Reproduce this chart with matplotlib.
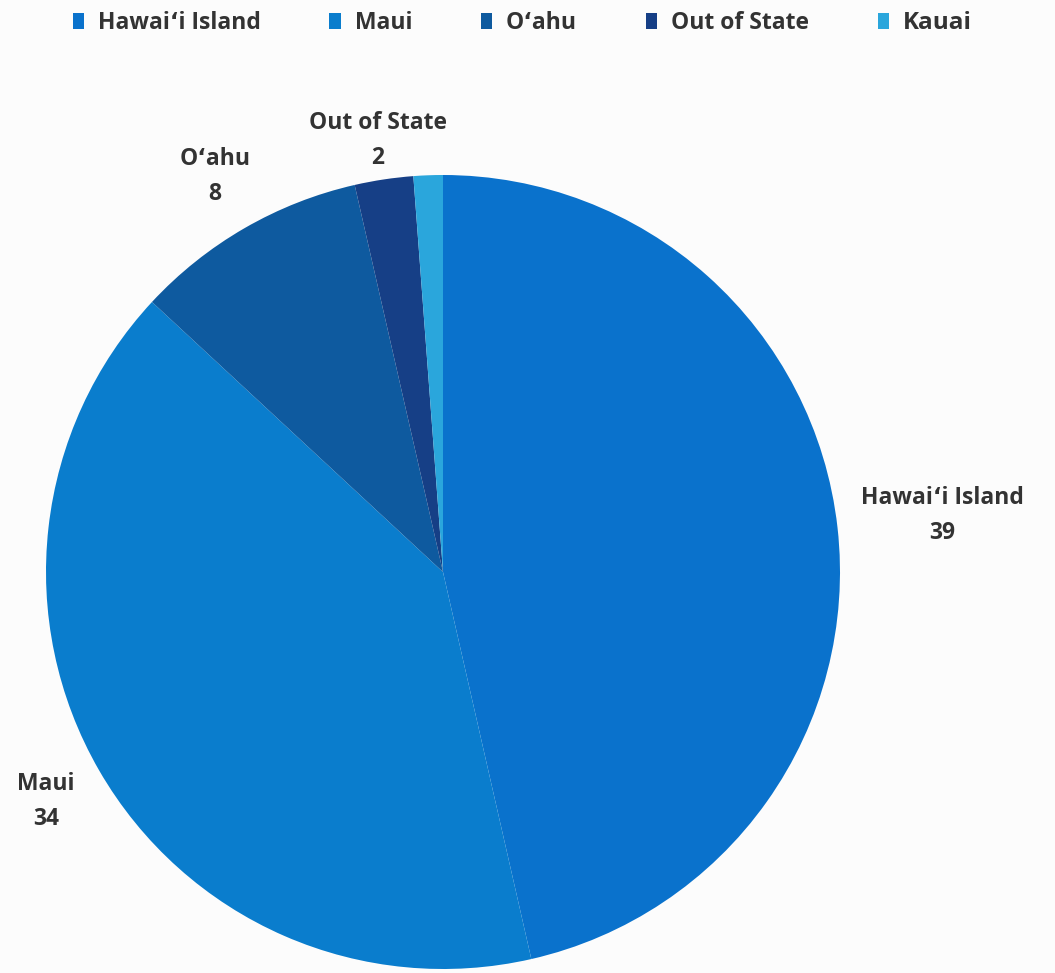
import numpy as np
import matplotlib.pyplot as plt
from matplotlib.patches import Patch

plt.rcParams['font.family'] = ['Open Sans', 'DejaVu Sans']

# residence of participants
places = ["Hawaiʻi Island", "Maui", "Oʻahu", "Out of State", "Kauai"]
counts = [39, 34, 8, 2, 1]
colors = ["#0a72cc", "#0a7dcd", "#0e5a9f", "#163f86", "#2aa6dc"]
show_label = [True, True, True, True, False]

# how far out each label sits (in pie radii)
label_r = [1.265, 1.155, 1.15, 1.10, 1.1]

fig = plt.figure(figsize=(10.55, 9.73), dpi=100, facecolor="#fcfcfc")
ax = fig.add_axes([443/1055 - 397/1055, (973-572-397)/973, 794/1055, 794/973])
ax.set_facecolor("#fcfcfc")

wedges, _ = ax.pie(counts, colors=colors, startangle=90, counterclock=False,
                   radius=1, wedgeprops=dict(linewidth=0))
ax.set_xlim(-1, 1)
ax.set_ylim(-1, 1)
ax.set_aspect("equal")
ax.axis("off")

for i, w in enumerate(wedges):
    if not show_label[i]:
        continue
    mid = np.deg2rad((w.theta1 + w.theta2) / 2)
    x = label_r[i] * np.cos(mid)
    y = label_r[i] * np.sin(mid)
    ax.text(x, y, places[i] + "\n" + str(counts[i]), ha="center", va="center",
            fontsize=16.5, fontweight="bold", color="#333333", linespacing=1.6)

handles = [Patch(facecolor=c, edgecolor="none") for c in colors]
leg = fig.legend(handles, places, loc="upper center", bbox_to_anchor=(0.495, 1.01),
                 ncol=5, frameon=False, fontsize=16.5, handlelength=0.5, handleheight=0.7,
                 handletextpad=0.6, columnspacing=3.0)
for t in leg.get_texts():
    t.set_color("#333333")
    t.set_fontweight("bold")
leg.get_texts()[-1].set_fontsize(17.5)

fig.savefig("out.png", dpi=100, facecolor=fig.get_facecolor())
